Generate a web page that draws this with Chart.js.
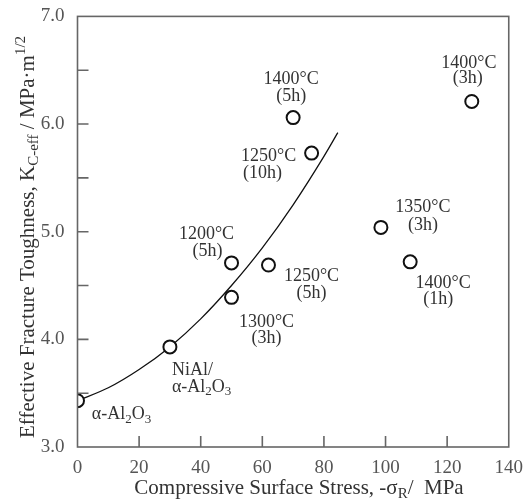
<!DOCTYPE html>
<html>
<head>
<meta charset="utf-8">
<script src="https://cdn.jsdelivr.net/npm/chart.js@4.4.1/dist/chart.umd.min.js"></script>
<style>
  html, body { margin: 0; padding: 0; background: #fff; }
  #wrap { width: 525px; height: 499px; }
</style>
</head>
<body>
<div id="wrap"><canvas id="chart" width="525" height="499"></canvas></div>
<script>
// measured points: compressive surface stress (MPa) vs effective toughness
const stressX = [0, 30, 50, 50, 62, 70, 76, 98.5, 108, 128];
const toughY = [3.43, 3.93, 4.71, 4.39, 4.69, 6.06, 5.73, 5.04, 4.72, 6.21];

// trend curve
const fitX = [0, 10, 20, 30, 40, 50, 60, 70, 80, 84.5];
const fitY = [3.43, 3.55, 3.72, 3.93, 4.19, 4.50, 4.85, 5.25, 5.70, 5.92];

const xTicks = [0, 20, 40, 60, 80, 100, 120, 140];
const yTicks = [3, 4, 5, 6, 7];
const yMinor = [3.5, 4.5, 5.5, 6.5];

// point labels, one entry per point (lines of rich text)
const pointLabels = [
    [[['α-Al', 'n'], ['2', 'sub'], ['O', 'n'], ['3', 'sub']]],
    [[['NiAl/', 'n']], [['α-Al', 'n'], ['2', 'sub'], ['O', 'n'], ['3', 'sub']]],
    [[['1200°C', 'n']], [['(5h)', 'n']]],
    [[['1300°C', 'n']], [['(3h)', 'n']]],
    [[['1250°C', 'n']], [['(5h)', 'n']]],
    [[['1400°C', 'n']], [['(5h)', 'n']]],
    [[['1250°C', 'n']], [['(10h)', 'n']]],
    [[['1350°C', 'n']], [['(3h)', 'n']]],
    [[['1400°C', 'n']], [['(1h)', 'n']]],
    [[['1400°C', 'n']], [['(3h)', 'n']]]
];
// pixel offsets of each label line from its point [dx, dy, align]
const labelOffsets = [
    [[44, 14, 'center']],
    [[2, 23, 'left'], [2, 40, 'left']],
    [[-25, -29, 'center'], [-24, -12, 'center']],
    [[35, 25, 'center'], [35, 41, 'center']],
    [[43, 11, 'center'], [43, 28, 'center']],
    [[-2, -38, 'center'], [-2, -21, 'center']],
    [[-43, 3, 'center'], [-49, 20, 'center']],
    [[42, -20, 'center'], [42, -2, 'center']],
    [[33, 21, 'center'], [28, 37, 'center']],
    [[-3, -38, 'center'], [-4, -23, 'center']]
];

const FONT = "'Liberation Serif', 'Times New Roman', serif";
const TEXT = '#333';
const AXIS = '#666';

function richWidth(ctx, segs, size) {
    let w = 0;
    segs.forEach(([t, m]) => {
        ctx.font = (m === 'n' ? size : Math.round(size * 0.7)) + 'px ' + FONT;
        w += ctx.measureText(t).width;
    });
    return w;
}

function drawRich(ctx, segs, x, y, size, align) {
    const w = richWidth(ctx, segs, size);
    let cx = align === 'center' ? x - w / 2 : align === 'right' ? x - w : x;
    ctx.textAlign = 'left';
    ctx.textBaseline = 'middle';
    segs.forEach(([t, m]) => {
        let dy = 0;
        if (m === 'n') {
            ctx.font = size + 'px ' + FONT;
        } else {
            ctx.font = Math.round(size * 0.7) + 'px ' + FONT;
            dy = m === 'sub' ? size * 0.28 : -size * 0.32;
        }
        ctx.fillText(t, cx, y + dy);
        cx += ctx.measureText(t).width;
    });
}

const decorPlugin = {
    id: 'decor',
    afterDatasetsDraw(chart) {
        const ctx = chart.ctx;
        const meta = chart.getDatasetMeta(0);
        ctx.save();
        ctx.fillStyle = TEXT;
        pointLabels.forEach((lines, i) => {
            const pt = meta.data[i];
            lines.forEach((segs, j) => {
                const [dx, dy, al] = labelOffsets[i][j];
                drawRich(ctx, segs, pt.x + dx, pt.y + dy, 18, al);
            });
        });
        ctx.restore();
    },
    afterDraw(chart) {
        const ctx = chart.ctx;
        const a = chart.chartArea;
        const xs = chart.scales.x, ys = chart.scales.y;
        ctx.save();
        ctx.strokeStyle = AXIS;
        ctx.lineWidth = 1.6;
        ctx.strokeRect(a.left, a.top, a.right - a.left, a.bottom - a.top);
        // inward tick marks
        ctx.beginPath();
        xTicks.slice(1, -1).forEach(v => {
            const px = xs.getPixelForValue(v);
            ctx.moveTo(px, a.bottom);
            ctx.lineTo(px, a.bottom - 11);
        });
        yTicks.slice(1, -1).concat(yMinor).forEach(v => {
            const py = ys.getPixelForValue(v);
            ctx.moveTo(a.left, py);
            ctx.lineTo(a.left + 11, py);
        });
        ctx.stroke();

        // axis titles
        ctx.fillStyle = TEXT;
        const xt = [['Compressive Surface Stress, -σ', 'n'], ['R', 'sub'], ['/  MPa', 'n']];
        drawRich(ctx, xt, 299, 488, 21, 'center');
        ctx.translate(28, 237);
        ctx.rotate(-Math.PI / 2);
        const yt = [['Effective Fracture Toughness, K', 'n'], ['C-eff', 'sub'], [' / MPa·m', 'n'], ['1/2', 'sup']];
        drawRich(ctx, yt, 0, 0, 21, 'center');
        ctx.restore();
    }
};

new Chart(document.getElementById('chart'), {
    type: 'scatter',
    data: {
        datasets: [
            {
                label: 'measured',
                data: stressX.map((x, i) => ({ x: x, y: toughY[i] })),
                pointRadius: 6.5,
                pointBorderWidth: 2,
                pointBorderColor: '#111',
                pointBackgroundColor: '#fff',
                showLine: false
            },
            {
                label: 'fit',
                data: fitX.map((x, i) => ({ x: x, y: fitY[i] })),
                showLine: true,
                borderColor: '#111',
                borderWidth: 1.3,
                pointRadius: 0,
                tension: 0.4,
                cubicInterpolationMode: 'monotone'
            }
        ]
    },
    options: {
        responsive: false,
        animation: false,
        layout: { padding: { top: 15, right: 14, left: 0, bottom: 0 } },
        plugins: {
            legend: { display: false },
            tooltip: { enabled: false }
        },
        scales: {
            x: {
                type: 'linear',
                min: 0,
                max: 140,
                afterBuildTicks: s => { s.ticks = xTicks.map(v => ({ value: v })); },
                ticks: {
                    color: '#555',
                    font: { family: FONT, size: 19 },
                    padding: 2,
                    maxRotation: 0
                },
                grid: { display: false },
                border: { display: false },
                afterFit: s => { s.height = 52; }
            },
            y: {
                type: 'linear',
                min: 3,
                max: 7,
                afterBuildTicks: s => { s.ticks = yTicks.map(v => ({ value: v })); },
                ticks: {
                    color: '#555',
                    font: { family: FONT, size: 19 },
                    padding: 5,
                    callback: v => v.toFixed(1)
                },
                grid: { display: false },
                border: { display: false },
                afterFit: s => { s.width = 77.5; }
            }
        }
    },
    plugins: [decorPlugin]
});
</script>
</body>
</html>
